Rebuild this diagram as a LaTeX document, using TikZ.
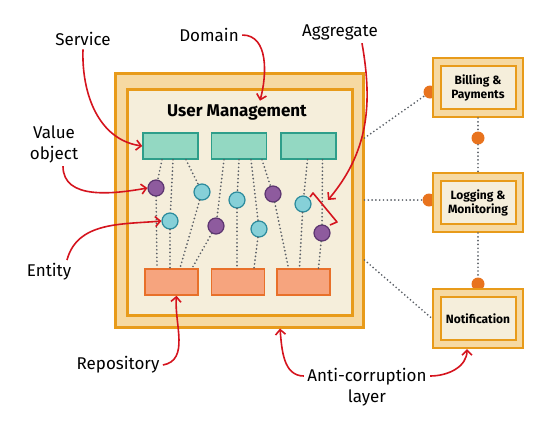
\documentclass[tikz,border=0pt]{standalone}
\usepackage{fontspec}
\setmainfont{Fira Sans}
\usetikzlibrary{positioning, arrows.meta}

\definecolor{frameOrange}{HTML}{E89B1A}
\definecolor{bandFill}{HTML}{F6D9A2}
\definecolor{panelFill}{HTML}{F5EEDB}
\definecolor{svcFill}{HTML}{93D8C2}
\definecolor{svcLine}{HTML}{2E9E8A}
\definecolor{repoFill}{HTML}{F6A47E}
\definecolor{repoLine}{HTML}{E8702A}
\definecolor{voFill}{HTML}{8E5B9E}
\definecolor{voLine}{HTML}{5C3570}
\definecolor{enFill}{HTML}{86D0D8}
\definecolor{enLine}{HTML}{2A8A9C}
\definecolor{linkGray}{HTML}{5A5F66}
\definecolor{calloutRed}{HTML}{D5141E}
\definecolor{portOrange}{HTML}{E8731E}

\begin{document}
\begin{tikzpicture}[x=1pt, y=-1pt,
  font=\fontsize{17}{20}\selectfont,
  frame/.style={draw=frameOrange, line width=3pt, fill=bandFill},
  panel/.style={draw=frameOrange, line width=3pt, fill=panelFill},
  svcbox/.style={draw=svcLine, line width=1.5pt, fill=svcFill,
                 minimum width=55pt, minimum height=26pt},
  repobox/.style={draw=repoLine, line width=1.5pt, fill=repoFill,
                  minimum width=53pt, minimum height=26pt},
  valobj/.style={circle, draw=voLine, fill=voFill, line width=1.2pt,
                 minimum size=16pt, inner sep=0pt},
  entity/.style={circle, draw=enLine, fill=enFill, line width=1.2pt,
                 minimum size=16pt, inner sep=0pt},
  link/.style={draw=linkGray, line width=1.9pt, line cap=round,
               dash pattern=on 0pt off 3.8pt},
  callout/.style={draw=calloutRed, line width=1.6pt,
                  -{Straight Barb[length=5pt, width=10pt]}},
  port/.style={circle, fill=portOrange, minimum size=13pt, inner sep=0pt},
  ctxbox/.style={frame, line width=2pt, minimum width=90pt, minimum height=59pt},
  ctxin/.style={panel, line width=2pt, minimum width=75pt, minimum height=43pt,
                align=center, font=\fontsize{12}{14}\selectfont\bfseries}]
  \useasboundingbox (0,0) rectangle (550,432);

  % bounded context
  \node[frame, minimum width=248pt, minimum height=254pt] (um) at (239,200) {};
  \node[panel, minimum width=225pt, minimum height=226pt] (umin) at (239.5,202) {};
  \node[font=\fontsize{17}{20}\selectfont\bfseries] (title) at (237,112) {User Management};

  \node[svcbox] (s1) at (170.5,146) {};
  \node[svcbox, right=12pt of s1] (s2) {};
  \node[svcbox, right=13pt of s2] (s3) {};
  \node[repobox] (r1) at (171.5,282) {};
  \node[repobox, right=12pt of r1] (r2) {};
  \node[repobox, right=11pt of r2] (r3) {};

  \node[valobj] (vo1) at (156,188) {};
  \node[entity] (en1) at (170,221) {};
  \node[entity] (en2) at (202,192) {};
  \node[valobj] (vo2) at (216,226) {};
  \node[entity] (en3) at (237,200) {};
  \node[entity] (en4) at (259,229) {};
  \node[valobj] (vo3) at (273,194) {};
  \node[entity] (en5) at (303,204) {};
  \node[valobj] (vo4) at (322,233) {};

  \foreach \s/\dx/\c in {s1/-8.5/vo1, s1/2.5/en1, s1/15.5/en2,
                         s2/-15/vo2, s2/0/en3, s2/12/en4, s2/23/vo3,
                         s3/-1/en5, s3/14/vo4}
    \draw[link] ([xshift=\dx pt]\s.south) -- (\c);
  \foreach \c/\r/\dx in {vo1/r1/-14.5, en1/r1/-1.5, en2/r1/8.5, vo2/r1/20.5,
                         en3/r2/-1, en4/r2/16,
                         vo3/r3/-15, en5/r3/-4, vo4/r3/15}
    \draw[link] (\c) -- ([xshift=\dx pt]\r.north);

  % aggregate bracket
  \draw[calloutRed, line width=1.6pt, line join=round]
    ([shift={(7,-7)}]en5.center) -- ([shift={(10,-11)}]en5.center)
    -- ([shift={(15,-11)}]vo4.center) -- ([shift={(8,-8)}]vo4.center);

  % other contexts
  \node[port] (bdot) at (430,92) {};
  \node[port] (mdot) at (478,138) {};
  \node[port] (ldot) at (429,200) {};
  \node[port] (ndot) at (478,284) {};
  \node[ctxbox] (billing) at (478,87.5) {};
  \node[ctxbox, below=54pt of billing] (logging) {};
  \node[ctxbox, below=55pt of logging] (notif) {};
  \node[ctxin] at (billing) {Billing \&\\Payments};
  \node[ctxin] at (logging) {Logging \&\\Monitoring};
  \node[ctxin] at (notif) {Notification};

  \draw[link] ([shift={(0,-62)}]um.east) -- (bdot);
  \draw[link] (um.east) -- (ldot);
  \draw[link] ([shift={(0,60)}]um.east) -- (notif.west);
  \draw[link] (billing.south) -- (mdot) -- (logging.north);
  \draw[link] (logging.south) -- (ndot);

  % callouts
  \node (service) at (83,39) {Service};
  \node (domain) at (209,35) {Domain};
  \node (aggregate) at (340,32) {Aggregate};
  \node[align=center] (valueobj) at (54,144) {Value\\[1pt]object};
  \node (entitylbl) at (49,272) {Entity};
  \node (repolbl) at (118,365) {Repository};
  \node[align=center] (acl) at (367,387) {Anti-corruption\\[1pt]layer};

  \draw[callout] (service.south) to[out=-92, in=172] (s1.west);
  \draw[callout] (domain.east) to[out=0, in=75] ([xshift=23pt]title.north);
  \draw[callout] ([xshift=22pt]aggregate.south) to[out=-80, in=50]
    ([shift={(25,-4)}]en5.center);
  \draw[callout] ([xshift=9pt]valueobj.south) to[out=-90, in=190] (vo1.west);
  \draw[callout] ([xshift=18pt]entitylbl.north) to[out=75, in=185] (en1.west);
  \draw[callout] (repolbl.east) to[out=10, in=-95] ([xshift=5pt]r1.south);
  \draw[callout] ([shift={(0,-11)}]acl.west) to[out=180, in=-85]
    ([xshift=41pt]um.south);
  \draw[callout] ([shift={(0,-11)}]acl.east) to[out=0, in=-90]
    ([xshift=-11pt]notif.south);
\end{tikzpicture}
\end{document}
